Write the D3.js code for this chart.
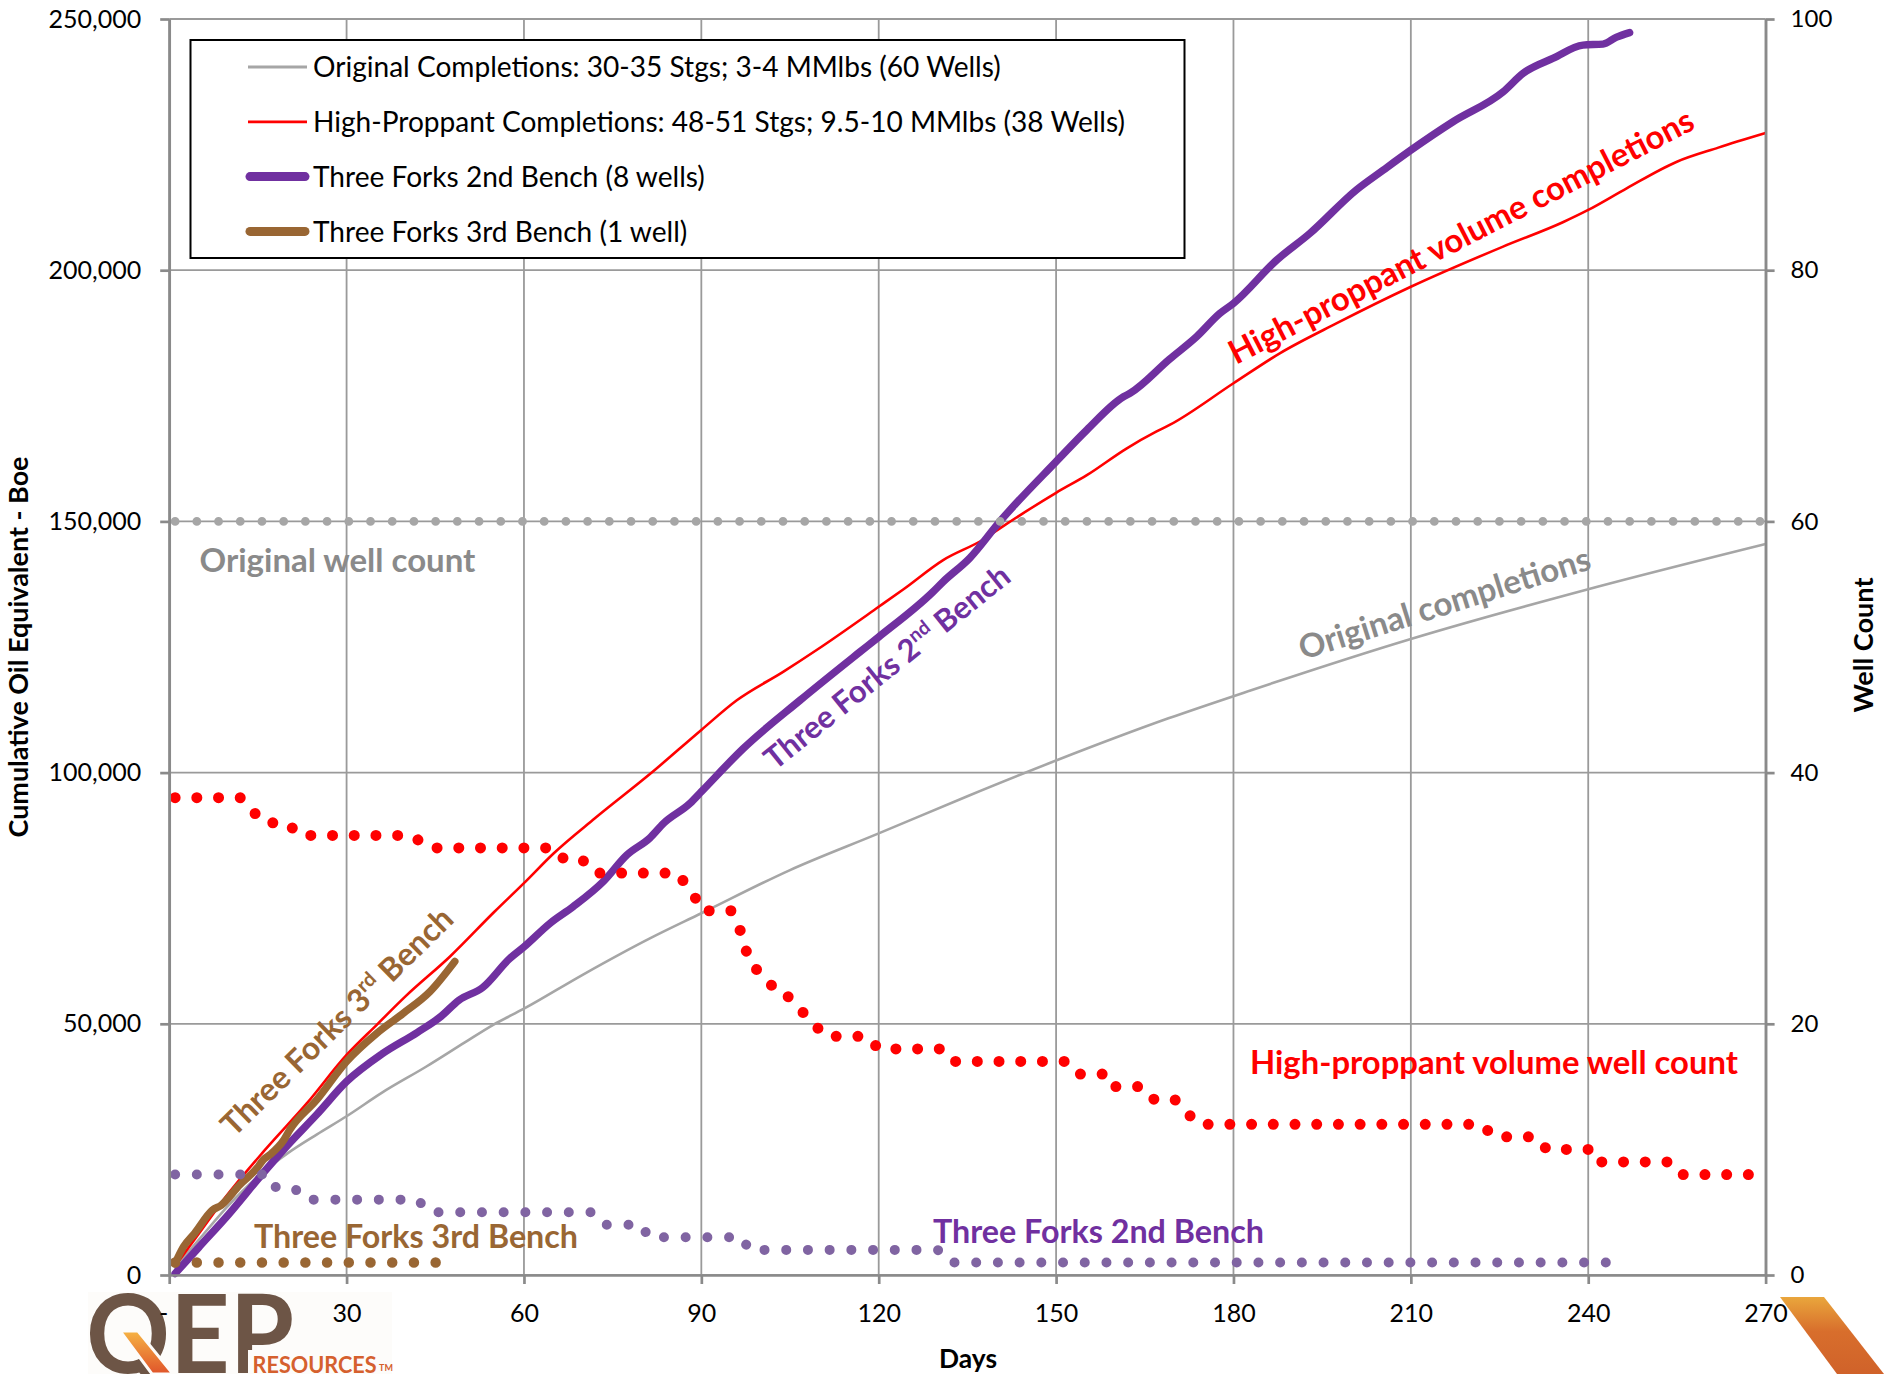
<!DOCTYPE html>
<html>
<head>
<meta charset="utf-8">
<script src="https://cdn.jsdelivr.net/npm/d3@7"></script>
<style>
  html, body { margin: 0; padding: 0; background: #fff; }
  svg { display: block; }
</style>
</head>
<body>
<svg id="chart" width="1895" height="1374"></svg>
<script>
// ---------- tick values ----------
const dayTicks = [0, 30, 60, 90, 120, 150, 180, 210, 240, 270];
const boeTicks = [0, 50000, 100000, 150000, 200000, 250000];
const wellTicks = [0, 20, 40, 60, 80, 100];

// ---------- legend entries ----------
const legendLabels = [
  "Original Completions: 30-35 Stgs; 3-4 MMlbs (60 Wells)",
  "High-Proppant Completions: 48-51 Stgs; 9.5-10 MMlbs (38 Wells)",
  "Three Forks 2nd Bench (8 wells)",
  "Three Forks 3rd Bench (1 well)"
];

// ---------- cumulative production, [day, Boe] ----------
const originalBoe = [
  [1, 1500], [5, 7000], [10, 13800], [15.6, 20200], [20, 24200], [25, 28000],
  [30, 31600], [36, 36300], [43.5, 41500], [50, 46300], [54.8, 49800], [60, 53000],
  [70, 59800], [81.3, 67000], [90, 72000], [105, 80600], [120, 87900], [135, 95300],
  [150, 102400], [169, 110800], [183, 116400], [210, 126600], [240, 136500], [270, 145500]
];
const highProppantBoe = [
  [1, 1800], [5, 8200], [9.4, 15300], [16.2, 24900], [23.3, 34200], [30, 43800],
  [35.1, 49800], [40, 55500], [47.5, 63400], [55, 72300], [60, 78000], [65, 83900],
  [72, 90900], [81.3, 99700], [90, 108500], [96, 114400], [103.9, 120100], [109.5, 124400],
  [120, 133000], [124.2, 136500], [130.9, 142300], [137.7, 146400], [141, 149000],
  [150, 155700], [155.2, 159200], [161.9, 164500], [167, 167900], [169.2, 169200],
  [180, 177500], [187.9, 183500], [197.4, 189400], [210, 196700], [225.6, 204700],
  [235.8, 209600], [240, 212000], [246.5, 216300], [255, 221600], [262, 224400], [270, 227300]
];
const tf2Boe = [
  [1, 300], [5, 5500], [10, 12000], [15.6, 19900], [20, 25800], [25, 32000], [30, 38500],
  [36, 44000], [42, 48300], [46, 51500], [49, 54700], [53, 57200], [57.6, 63000],
  [60, 65300], [64.4, 70000], [68.3, 73300], [73.4, 78300], [77.4, 83600], [81.3, 87000],
  [83.6, 89900], [88.1, 93900], [90, 96200], [97.1, 104800], [106.7, 114400],
  [116.8, 124000], [120, 127000], [129.2, 136000], [130.9, 138000], [135.4, 142700],
  [140.5, 150000], [150, 161900], [155.2, 168200], [161.4, 174800], [162.5, 175500],
  [169.2, 182300], [173.8, 186800], [177.7, 191400], [180, 193400], [187.3, 202000],
  [192.9, 207300], [200.8, 216000], [205.3, 219900], [210, 223900], [217.2, 229600],
  [225.6, 235500], [229, 239200], [234.1, 242200], [239.1, 244800], [242.5, 245000],
  [244.8, 246400], [247, 247300]
];
const tf3Boe = [
  [1, 2300], [2.4, 5600], [4.3, 8300], [7.3, 12900], [8.8, 13900], [11.9, 17900],
  [14.8, 21200], [15.9, 22900], [17, 23900], [19.4, 26900], [20.4, 28900], [24.9, 34800],
  [30, 42500], [35.1, 48100], [39.6, 52100], [44.1, 56400], [48.3, 62400]
];

// ---------- producing well counts, [day, wells] ----------
const originalWells = [[1, 60], [270, 60]];
const highProppantWells = [
  [1, 38], [12, 38], [14, 37], [16, 36], [20, 36], [22, 35], [41, 35], [44, 34], [65, 34],
  [67, 33], [70, 33], [72, 32], [86, 32], [87.5, 31], [89, 30], [90, 30], [91, 29], [95, 29],
  [96, 28], [97, 27], [98, 25], [100, 24], [102, 23], [103, 23], [105, 22], [107, 21],
  [109, 20], [111, 19], [118, 19], [120, 18], [131, 18], [133, 17], [152, 17], [154, 16],
  [159, 16], [160, 15], [164, 15], [166, 14], [170, 14], [172, 13], [174, 12], [222, 12],
  [224, 11], [231, 11], [233, 10], [241, 10], [242, 9], [254, 9], [256, 8], [269, 8]
];
const tf2Wells = [
  [1, 8], [16, 8], [17, 7], [21, 7], [23, 6], [42, 6], [44, 5], [72, 5], [74, 4], [80, 4],
  [81, 3], [97, 3], [98, 2], [130, 2], [132, 1], [246, 1]
];
const tf3Wells = [[1, 1], [47, 1]];

// ---------- layout ----------
const W = 1895, H = 1374;
const plot = { left: 169.2, right: 1765.6, top: 19, bottom: 1275 };
const FONT = 'Lato, "Open Sans", "DejaVu Sans", sans-serif';
const GRID = "#9a9a9a", AXIS = "#8a8a8a";
const C = {
  gray: "#A6A6A6", red: "#FF0000", purple: "#7030A0", brown: "#996633",
  purpleDot: "#8064A2", label: "#8a8a8a"
};

const svg = d3.select("#chart");
svg.append("rect").attr("width", W).attr("height", H).attr("fill", "#fff");

const x = d3.scaleLinear().domain([0, 270]).range([plot.left, plot.right]);
const y = d3.scaleLinear().domain([0, 250000]).range([plot.bottom, plot.top]);
const y2 = d3.scaleLinear().domain([0, 100]).range([plot.bottom, plot.top]);

function fitWidth(sel, target) {
  const base = parseFloat(sel.attr("font-size"));
  const w = sel.node().getComputedTextLength();
  if (w > 0) sel.attr("font-size", (base * target / w).toFixed(2));
  return sel;
}

// ---------- company logo (bottom left) and corner stripe ----------
const defs = svg.append("defs");
const g1 = defs.append("linearGradient").attr("id", "stripeA")
  .attr("x1", 0).attr("y1", 0).attr("x2", 0).attr("y2", 1);
g1.append("stop").attr("offset", "0%").attr("stop-color", "#F6B444");
g1.append("stop").attr("offset", "100%").attr("stop-color", "#E0542A");
const g2 = defs.append("linearGradient").attr("id", "stripeB")
  .attr("x1", 0).attr("y1", 0).attr("x2", 0).attr("y2", 1);
g2.append("stop").attr("offset", "0%").attr("stop-color", "#E9A63C");
g2.append("stop").attr("offset", "45%").attr("stop-color", "#D86E2C");
g2.append("stop").attr("offset", "100%").attr("stop-color", "#D0622A");

const logo = svg.append("g");
logo.append("rect").attr("x", 88).attr("y", 1292).attr("width", 304).attr("height", 82)
  .attr("fill", "#fdfcfa");
logo.append("text").attr("x", 86).attr("y", 1373)
  .attr("font-family", FONT).attr("font-weight", "bold").attr("font-size", 110)
  .attr("fill", "#6d5546").attr("textLength", 208).attr("lengthAdjust", "spacingAndGlyphs")
  .text("QEP");
logo.append("polygon")
  .attr("points", "120,1331 138,1331 173,1374 152,1374")
  .attr("fill", "url(#stripeA)").attr("stroke", "#fdfcfa").attr("stroke-width", 3);
logo.append("rect").attr("x", 248).attr("y", 1350).attr("width", 144).attr("height", 24)
  .attr("fill", "#fdfcfa");
logo.append("text").attr("x", 252.6).attr("y", 1373)
  .attr("font-family", FONT).attr("font-weight", "bold").attr("font-size", 23)
  .attr("fill", "#D5602E").attr("textLength", 124).attr("lengthAdjust", "spacingAndGlyphs")
  .text("RESOURCES");
logo.append("text").attr("x", 379).attr("y", 1371)
  .attr("font-family", FONT).attr("font-weight", "bold").attr("font-size", 9)
  .attr("fill", "#D5602E").text("TM");
svg.append("polygon")
  .attr("points", "1780,1297 1824,1297 1884,1374 1837,1374")
  .attr("fill", "url(#stripeB)");

// ---------- gridlines ----------
const grid = svg.append("g").attr("stroke", GRID).attr("stroke-width", 1.8);
grid.selectAll("line.gx").data(dayTicks).join("line").attr("class", "gx")
  .attr("x1", d => x(d)).attr("x2", d => x(d)).attr("y1", plot.top).attr("y2", plot.bottom);
grid.selectAll("line.gy").data(boeTicks).join("line").attr("class", "gy")
  .attr("x1", plot.left).attr("x2", plot.right).attr("y1", d => y(d)).attr("y2", d => y(d));

// ---------- legend ----------
const legend = svg.append("g");
legend.append("rect").attr("x", 190.5).attr("y", 40).attr("width", 994).attr("height", 218)
  .attr("fill", "#fff").attr("stroke", "#000").attr("stroke-width", 2);
const legendStyle = [
  { color: C.gray, w: 2.8 }, { color: C.red, w: 2.8 },
  { color: C.purple, w: 9 }, { color: C.brown, w: 9 }
];
const rows = legend.selectAll("g.row").data(legendLabels).join("g").attr("class", "row")
  .attr("transform", (d, i) => `translate(0,${67 + i * 54.8})`);
rows.append("line").attr("x1", (d, i) => i < 2 ? 248 : 250).attr("x2", (d, i) => i < 2 ? 307 : 305)
  .attr("stroke", (d, i) => legendStyle[i].color).attr("stroke-width", (d, i) => legendStyle[i].w)
  .attr("stroke-linecap", (d, i) => i < 2 ? "butt" : "round");
const legendText = rows.append("text").attr("x", 313).attr("font-family", FONT)
  .attr("font-size", 26).attr("fill", "#000").text(d => d);
const firstRow = legendText.filter((d, i) => i === 0);
fitWidth(firstRow, 688);
const legendSize = parseFloat(firstRow.attr("font-size"));
legendText.attr("font-size", legendSize).attr("dy", (legendSize * 0.36).toFixed(1));

// ---------- production curves (primary axis) ----------
const smooth = d3.line().x(d => x(d[0])).y(d => y(d[1])).curve(d3.curveMonotoneX);
function curve(data, color, width) {
  svg.append("path").datum(data).attr("d", smooth).attr("fill", "none")
    .attr("stroke", color).attr("stroke-width", width)
    .attr("stroke-linejoin", "round").attr("stroke-linecap", "round");
}
curve(originalBoe, C.gray, 2.6);
curve(highProppantBoe, C.red, 2.6);
curve(tf2Boe, C.purple, 7.5);
curve(tf3Boe, C.brown, 7.5);

// ---------- well counts (secondary axis, round-dot lines) ----------
const countLine = d3.line().x(d => x(d[0])).y(d => y2(d[1]));
function dotted(data, color, width) {
  svg.append("path").datum(data).attr("d", countLine).attr("fill", "none")
    .attr("stroke", color).attr("stroke-width", width)
    .attr("stroke-linecap", "round").attr("stroke-dasharray", "0.01 21.7");
}
dotted(originalWells, C.gray, 8.8);
dotted(highProppantWells, C.red, 11);
dotted(tf2Wells, C.purpleDot, 10);
dotted(tf3Wells, C.brown, 10.5);

// ---------- axes ----------
function styleAxis(g) {
  g.attr("font-family", FONT).attr("font-size", 25);
  g.select(".domain").attr("stroke", AXIS).attr("stroke-width", 2.7);
  g.selectAll(".tick line").attr("stroke", AXIS).attr("stroke-width", 2.7);
  g.selectAll(".tick text").attr("fill", "#000");
}
svg.append("g").attr("transform", `translate(0,${plot.bottom})`)
  .call(d3.axisBottom(x).tickValues(dayTicks).tickSize(9).tickSizeOuter(0).tickPadding(20)
    .tickFormat(d => d === 0 ? "-" : d))
  .call(styleAxis)
  .call(g => g.selectAll(".tick text").attr("dx", d => d === 0 ? -6 : 0));
svg.append("g").attr("transform", `translate(${plot.left},0)`)
  .call(d3.axisLeft(y).tickValues(boeTicks).tickSize(9).tickSizeOuter(0).tickPadding(19)
    .tickFormat(d3.format(",")))
  .call(styleAxis);
svg.append("g").attr("transform", `translate(${plot.right},0)`)
  .call(d3.axisRight(y2).tickValues(wellTicks).tickSize(9).tickSizeOuter(0).tickPadding(16))
  .call(styleAxis)
  .call(g => g.attr("font-size", 24));

// axis titles
const t1 = svg.append("text").attr("transform", "translate(28,647) rotate(-90)")
  .attr("text-anchor", "middle").attr("font-family", FONT).attr("font-weight", "bold")
  .attr("font-size", 22).attr("fill", "#000").text("Cumulative Oil Equivalent - Boe");
fitWidth(t1, 381);
const t2 = svg.append("text").attr("transform", "translate(1873,645) rotate(-90)")
  .attr("text-anchor", "middle").attr("font-family", FONT).attr("font-weight", "bold")
  .attr("font-size", 22).attr("fill", "#000").text("Well Count");
fitWidth(t2, 135);
const t3 = svg.append("text").attr("x", 968).attr("y", 1368)
  .attr("text-anchor", "middle").attr("font-family", FONT).attr("font-weight", "bold")
  .attr("font-size", 22).attr("fill", "#000").text("Days");
fitWidth(t3, 58);

// ---------- annotations ----------
function flatLabel(txt, x0, base, width, color) {
  const t = svg.append("text").attr("x", x0).attr("y", base)
    .attr("font-family", FONT).attr("font-weight", "bold").attr("font-size", 28)
    .attr("fill", color).text(txt);
  fitWidth(t, width);
}
function slantLabel(parts, x0, y0, angle, width, color) {
  const t = svg.append("text").attr("transform", `translate(${x0},${y0}) rotate(${-angle})`)
    .attr("font-family", FONT).attr("font-weight", "bold").attr("font-size", 28)
    .attr("fill", color);
  let raised = false;
  parts.forEach(p => {
    const s = t.append("tspan").text(p.t);
    if (p.sup) { s.attr("font-size", "62%").attr("dy", "-0.62em"); raised = true; }
    else if (raised) { s.attr("dy", "0.385em"); raised = false; }
  });
  fitWidth(t, width);
}
flatLabel("Original well count", 199.5, 572, 276, C.label);
flatLabel("High-proppant volume well count", 1250, 1074, 488, C.red);
flatLabel("Three Forks 2nd Bench", 933, 1243, 331, C.purple);
flatLabel("Three Forks 3rd Bench", 254, 1248, 324, C.brown);

slantLabel([{ t: "Original completions" }], 1303, 660, 17.5, 304, C.label);
slantLabel([{ t: "High-proppant volume completions" }], 1236, 365, 27.2, 518, C.red);
slantLabel([{ t: "Three Forks 2" }, { t: "nd", sup: true }, { t: " Bench" }], 775, 771, 38.8, 305, C.purple);
slantLabel([{ t: "Three Forks 3" }, { t: "rd", sup: true }, { t: " Bench" }], 234, 1138, 44.4, 310, C.brown);
</script>
</body>
</html>
